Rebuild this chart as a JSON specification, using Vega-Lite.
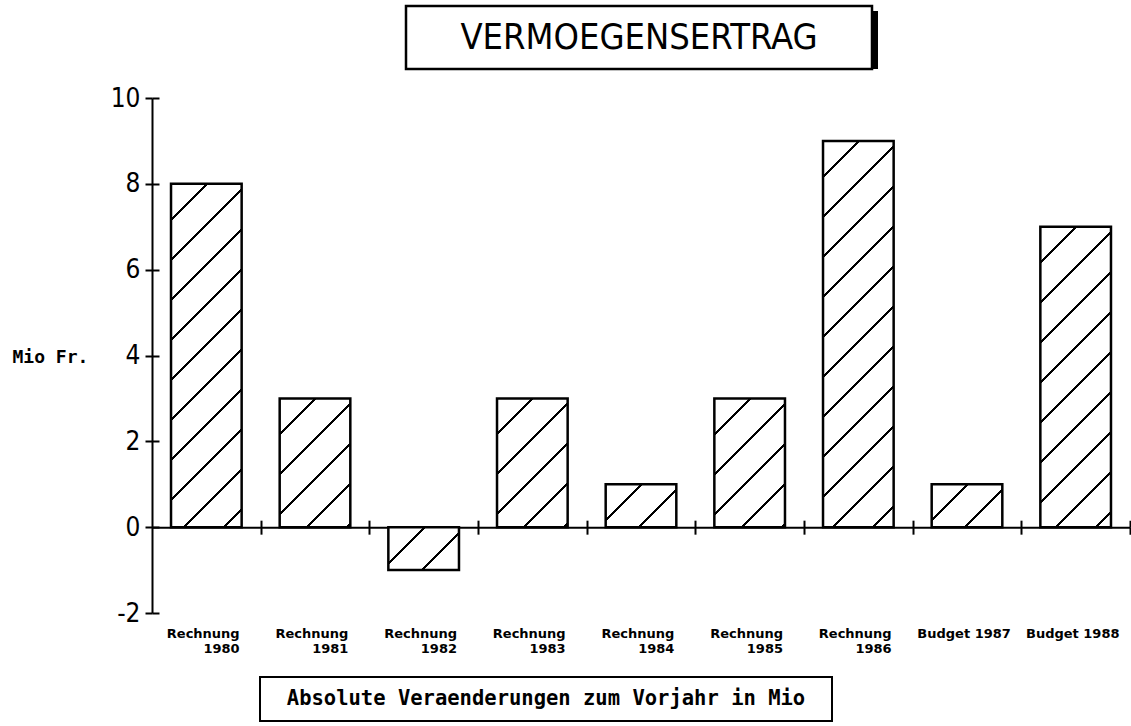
{
  "$schema": "https://vega.github.io/schema/vega-lite/v6.json",
  "padding": 0,
  "background": "white",
  "spacing": 0,
  "config": {"view": {"stroke": null}, "concat": {"spacing": 0}},
  "vconcat": [
    {"width": 1, "height": 4, "view": {"fill": "transparent"}, "data": {"values": []}, "mark": "point"},
    {
      "spacing": 0, "bounds": "flush",
      "hconcat": [
        {"width": 406, "height": 63, "view": {"fill": "transparent"}, "data": {"values": []}, "mark": "point"},
        {
          "width": 466, "height": 63,
          "data": {"values": [{"title": "VERMOEGENSERTRAG"}]},
          "layer": [
            {"mark": {"type": "rect", "color": "black", "xOffset": 6, "x2Offset": 6, "yOffset": 5, "y2Offset": 5}, "encoding": {}},
            {"mark": {"type": "rect", "fill": "white", "stroke": "black", "strokeWidth": 2.5}, "encoding": {}},
            {"mark": {"type": "text", "font": "DejaVu Sans Condensed", "fontSize": 36, "color": "black"}, "encoding": {"text": {"field": "title"}}}
          ]
        }
      ]
    },
    {"width": 1, "height": 14, "view": {"fill": "transparent"}, "data": {"values": []}, "mark": "point"},
    {
      "spacing": 0, "bounds": "flush",
      "hconcat": [
        {"width": 152, "height": 515, "view": {"fill": "transparent"}, "data": {"values": []}, "mark": "point"},
        {
          "width": 978, "height": 515,
          "data": {"values": [
            {"label": "Rechnung 1980", "value": 8},
            {"label": "Rechnung 1981", "value": 3},
            {"label": "Rechnung 1982", "value": -1},
            {"label": "Rechnung 1983", "value": 3},
            {"label": "Rechnung 1984", "value": 1},
            {"label": "Rechnung 1985", "value": 3},
            {"label": "Rechnung 1986", "value": 9},
            {"label": "Budget 1987", "value": 1},
            {"label": "Budget 1988", "value": 7}
          ]},
          "resolve": {"axis": {"x": "independent", "y": "independent"}},
          "layer": [
            {
              "mark": {"type": "bar", "stroke": "black", "strokeWidth": 2.5},
              "encoding": {
                "x": {
                  "field": "label", "type": "nominal", "sort": null,
                  "scale": {"paddingInner": 0.35, "paddingOuter": 0.175},
                  "axis": {
                    "orient": "bottom", "offset": -85.83, "title": null,
                    "domainColor": "black", "domainWidth": 2,
                    "tickColor": "black", "tickWidth": 2, "tickSize": 7, "tickBand": "center", "tickOffset": 54.33,
                    "labelAngle": 0, "labelAlign": "right", "labelBaseline": "top",
                    "labelPadding": 93, "labelOverlap": false, "labelBound": false, "labelFlush": false,
                    "labelFont": "DejaVu Sans", "labelFontWeight": "bold", "labelFontSize": 13, "labelColor": "black",
                    "labelLineHeight": 15,
                    "labelOffset": {"condition": {"test": "indexof(datum.label, 'Budget') == 0", "value": -11}, "value": -21.5},
                    "labelExpr": "indexof(datum.label, 'Rechnung') == 0 ? split(datum.label, ' ') : datum.label"
                  }
                },
                "y": {
                  "field": "value", "type": "quantitative",
                  "scale": {"domain": [-2, 10], "nice": false, "zero": false},
                  "axis": {
                    "orient": "left", "values": [-2, 0, 2, 4, 6, 8, 10], "grid": false,
                    "domainColor": "black", "domainWidth": 2,
                    "tickColor": "black", "tickWidth": 2, "tickSize": 7,
                    "labelPadding": 5, "labelFont": "DejaVu Sans Condensed", "labelFontSize": 26, "labelColor": "black",
                    "labelExpr": "toString(datum.value)",
                    "title": "Mio Fr.", "titleAngle": 0, "titleX": -140, "titleY": 259,
                    "titleAlign": "left", "titleBaseline": "middle",
                    "titleFont": "DejaVu Sans Mono", "titleFontWeight": "bold", "titleFontSize": 18, "titleColor": "black"
                  }
                },
                "fill": {
                  "condition": [
                    {"test": "datum.value >= 9", "value": {"gradient": "linear", "x1": 0, "y1": 0, "x2": 0.2092, "y2": 1.14454, "stops": [
                      {"offset": 0, "color": "#fff"},
                      {"offset": 0.07552, "color": "#fff"}, {"offset": 0.07552, "color": "#000"}, {"offset": 0.08208, "color": "#000"}, {"offset": 0.08208, "color": "#fff"},
                      {"offset": 0.16307, "color": "#fff"}, {"offset": 0.16307, "color": "#000"}, {"offset": 0.16964, "color": "#000"}, {"offset": 0.16964, "color": "#fff"},
                      {"offset": 0.25063, "color": "#fff"}, {"offset": 0.25063, "color": "#000"}, {"offset": 0.2572, "color": "#000"}, {"offset": 0.2572, "color": "#fff"},
                      {"offset": 0.33818, "color": "#fff"}, {"offset": 0.33818, "color": "#000"}, {"offset": 0.34475, "color": "#000"}, {"offset": 0.34475, "color": "#fff"},
                      {"offset": 0.42574, "color": "#fff"}, {"offset": 0.42574, "color": "#000"}, {"offset": 0.43231, "color": "#000"}, {"offset": 0.43231, "color": "#fff"},
                      {"offset": 0.5133, "color": "#fff"}, {"offset": 0.5133, "color": "#000"}, {"offset": 0.51986, "color": "#000"}, {"offset": 0.51986, "color": "#fff"},
                      {"offset": 0.60085, "color": "#fff"}, {"offset": 0.60085, "color": "#000"}, {"offset": 0.60742, "color": "#000"}, {"offset": 0.60742, "color": "#fff"},
                      {"offset": 0.68841, "color": "#fff"}, {"offset": 0.68841, "color": "#000"}, {"offset": 0.69498, "color": "#000"}, {"offset": 0.69498, "color": "#fff"},
                      {"offset": 0.77597, "color": "#fff"}, {"offset": 0.77597, "color": "#000"}, {"offset": 0.78253, "color": "#000"}, {"offset": 0.78253, "color": "#fff"},
                      {"offset": 0.86352, "color": "#fff"}, {"offset": 0.86352, "color": "#000"}, {"offset": 0.87009, "color": "#000"}, {"offset": 0.87009, "color": "#fff"},
                      {"offset": 0.95108, "color": "#fff"}, {"offset": 0.95108, "color": "#000"}, {"offset": 0.95764, "color": "#000"}, {"offset": 0.95764, "color": "#fff"},
                      {"offset": 1, "color": "#fff"}
                    ]}},
                    {"test": "datum.value >= 8", "value": {"gradient": "linear", "x1": 0, "y1": 0, "x2": 0.23786, "y2": 1.15672, "stops": [
                      {"offset": 0, "color": "#fff"},
                      {"offset": 0.08335, "color": "#fff"}, {"offset": 0.08335, "color": "#000"}, {"offset": 0.09059, "color": "#000"}, {"offset": 0.09059, "color": "#fff"},
                      {"offset": 0.17998, "color": "#fff"}, {"offset": 0.17998, "color": "#000"}, {"offset": 0.18723, "color": "#000"}, {"offset": 0.18723, "color": "#fff"},
                      {"offset": 0.27662, "color": "#fff"}, {"offset": 0.27662, "color": "#000"}, {"offset": 0.28387, "color": "#000"}, {"offset": 0.28387, "color": "#fff"},
                      {"offset": 0.37325, "color": "#fff"}, {"offset": 0.37325, "color": "#000"}, {"offset": 0.3805, "color": "#000"}, {"offset": 0.3805, "color": "#fff"},
                      {"offset": 0.46989, "color": "#fff"}, {"offset": 0.46989, "color": "#000"}, {"offset": 0.47713, "color": "#000"}, {"offset": 0.47713, "color": "#fff"},
                      {"offset": 0.56652, "color": "#fff"}, {"offset": 0.56652, "color": "#000"}, {"offset": 0.57377, "color": "#000"}, {"offset": 0.57377, "color": "#fff"},
                      {"offset": 0.66315, "color": "#fff"}, {"offset": 0.66315, "color": "#000"}, {"offset": 0.6704, "color": "#000"}, {"offset": 0.6704, "color": "#fff"},
                      {"offset": 0.75979, "color": "#fff"}, {"offset": 0.75979, "color": "#000"}, {"offset": 0.76704, "color": "#000"}, {"offset": 0.76704, "color": "#fff"},
                      {"offset": 0.85643, "color": "#fff"}, {"offset": 0.85643, "color": "#000"}, {"offset": 0.86367, "color": "#000"}, {"offset": 0.86367, "color": "#fff"},
                      {"offset": 0.95306, "color": "#fff"}, {"offset": 0.95306, "color": "#000"}, {"offset": 0.96031, "color": "#000"}, {"offset": 0.96031, "color": "#fff"},
                      {"offset": 1, "color": "#fff"}
                    ]}},
                    {"test": "datum.value >= 7", "value": {"gradient": "linear", "x1": 0, "y1": 0, "x2": 0.27504, "y2": 1.17037, "stops": [
                      {"offset": 0, "color": "#fff"},
                      {"offset": 0.09299, "color": "#fff"}, {"offset": 0.09299, "color": "#000"}, {"offset": 0.10107, "color": "#000"}, {"offset": 0.10107, "color": "#fff"},
                      {"offset": 0.2008, "color": "#fff"}, {"offset": 0.2008, "color": "#000"}, {"offset": 0.20888, "color": "#000"}, {"offset": 0.20888, "color": "#fff"},
                      {"offset": 0.30861, "color": "#fff"}, {"offset": 0.30861, "color": "#000"}, {"offset": 0.31669, "color": "#000"}, {"offset": 0.31669, "color": "#fff"},
                      {"offset": 0.41642, "color": "#fff"}, {"offset": 0.41642, "color": "#000"}, {"offset": 0.42451, "color": "#000"}, {"offset": 0.42451, "color": "#fff"},
                      {"offset": 0.52423, "color": "#fff"}, {"offset": 0.52423, "color": "#000"}, {"offset": 0.53232, "color": "#000"}, {"offset": 0.53232, "color": "#fff"},
                      {"offset": 0.63204, "color": "#fff"}, {"offset": 0.63204, "color": "#000"}, {"offset": 0.64013, "color": "#000"}, {"offset": 0.64013, "color": "#fff"},
                      {"offset": 0.73985, "color": "#fff"}, {"offset": 0.73985, "color": "#000"}, {"offset": 0.74794, "color": "#000"}, {"offset": 0.74794, "color": "#fff"},
                      {"offset": 0.84766, "color": "#fff"}, {"offset": 0.84766, "color": "#000"}, {"offset": 0.85575, "color": "#000"}, {"offset": 0.85575, "color": "#fff"},
                      {"offset": 0.95547, "color": "#fff"}, {"offset": 0.95547, "color": "#000"}, {"offset": 0.96356, "color": "#000"}, {"offset": 0.96356, "color": "#fff"},
                      {"offset": 1, "color": "#fff"}
                    ]}},
                    {"test": "datum.value >= 3", "value": {"gradient": "linear", "x1": 0, "y1": 0, "x2": 0.6528, "y2": 1.1904, "stops": [
                      {"offset": 0, "color": "#fff"},
                      {"offset": 0.17306, "color": "#fff"}, {"offset": 0.17306, "color": "#000"}, {"offset": 0.18811, "color": "#000"}, {"offset": 0.18811, "color": "#fff"},
                      {"offset": 0.37372, "color": "#fff"}, {"offset": 0.37372, "color": "#000"}, {"offset": 0.38876, "color": "#000"}, {"offset": 0.38876, "color": "#fff"},
                      {"offset": 0.57437, "color": "#fff"}, {"offset": 0.57437, "color": "#000"}, {"offset": 0.58942, "color": "#000"}, {"offset": 0.58942, "color": "#fff"},
                      {"offset": 0.77502, "color": "#fff"}, {"offset": 0.77502, "color": "#000"}, {"offset": 0.79007, "color": "#000"}, {"offset": 0.79007, "color": "#fff"},
                      {"offset": 0.97567, "color": "#fff"}, {"offset": 0.97567, "color": "#000"}, {"offset": 0.99072, "color": "#000"}, {"offset": 0.99072, "color": "#fff"},
                      {"offset": 1, "color": "#fff"}
                    ]}}
                  ],
                  "value": {"gradient": "linear", "x1": 0, "y1": 0, "x2": 1.1738, "y2": 0.7136, "stops": [
                    {"offset": 0, "color": "#fff"},
                    {"offset": 0.30396, "color": "#fff"}, {"offset": 0.30396, "color": "#000"}, {"offset": 0.3304, "color": "#000"}, {"offset": 0.3304, "color": "#fff"},
                    {"offset": 0.65639, "color": "#fff"}, {"offset": 0.65639, "color": "#000"}, {"offset": 0.68282, "color": "#000"}, {"offset": 0.68282, "color": "#fff"},
                    {"offset": 1, "color": "#fff"}
                  ]}
                }
              }
            },
            {
              "mark": {"type": "bar", "opacity": 0},
              "encoding": {
                "x": {
                  "field": "label", "type": "nominal", "sort": null,
                  "axis": {"orient": "bottom", "offset": -85.83, "title": null, "domain": false, "labels": false,
                    "tickColor": "black", "tickWidth": 2, "tickSize": -7, "tickBand": "center", "tickOffset": 54.33}
                },
                "y": {
                  "field": "value", "type": "quantitative",
                  "axis": {"orient": "left", "values": [-2, 0, 2, 4, 6, 8, 10], "grid": false, "title": null, "domain": false, "labels": false,
                    "tickColor": "black", "tickWidth": 2, "tickSize": -7}
                }
              }
            }
          ]
        }
      ]
    },
    {"width": 1, "height": 20, "view": {"fill": "transparent"}, "data": {"values": []}, "mark": "point"},
    {
      "spacing": 0, "bounds": "flush",
      "hconcat": [
        {"width": 260, "height": 44, "view": {"fill": "transparent"}, "data": {"values": []}, "mark": "point"},
        {
          "width": 572, "height": 44,
          "data": {"values": [{"caption": "Absolute Veraenderungen zum Vorjahr in Mio"}]},
          "layer": [
            {"mark": {"type": "rect", "fill": "white", "stroke": "black", "strokeWidth": 2}, "encoding": {}},
            {"mark": {"type": "text", "font": "DejaVu Sans Mono", "fontWeight": "bold", "fontSize": 20.5, "color": "black"}, "encoding": {"text": {"field": "caption"}}}
          ]
        }
      ]
    }
  ]
}
